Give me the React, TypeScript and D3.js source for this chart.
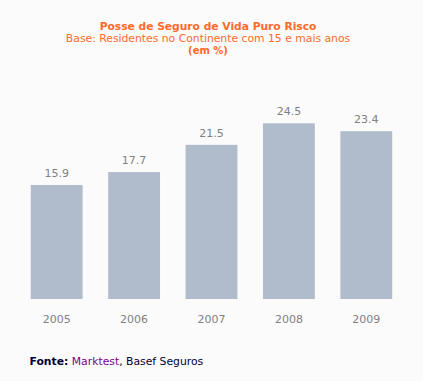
import React from "react";
import * as d3 from "d3";

const years = ["2005", "2006", "2007", "2008", "2009"];
const values = [15.9, 17.7, 21.5, 24.5, 23.4];
const title = "Posse de Seguro de Vida Puro Risco";
const subtitle = "Base: Residentes no Continente com 15 e mais anos";
const unit = "(em %)";

const W = 423;
const H = 381;

export default function App() {
  React.useEffect(() => {
    document.body.style.margin = "0";
  }, []);
  const x = d3.scaleBand<string>().domain(years).range([18, 405]).paddingInner(0.33).paddingOuter(0.165);
  const y = d3.scaleLinear().domain([0, 40]).range([299, 12.2]);
  const font = "'DejaVu Sans', Verdana, sans-serif";
  return (
    <svg width={W} height={H} style={{ display: "block", fontFamily: font }}>
      <rect x={0} y={0} width={W} height={H} fill="#fbfbfb" />
      <text x={208} y={29.5} textAnchor="middle" fontSize={10.7} fontWeight="bold" fill="#ff6a2a">{title}</text>
      <text x={208} y={42} textAnchor="middle" fontSize={10.8} fill="#ff6a2a">{subtitle}</text>
      <text x={208} y={53.5} textAnchor="middle" fontSize={10} fontWeight="bold" fill="#ff6a2a">{unit}</text>
      {years.map((yr, i) => (
        <g key={yr}>
          <rect x={x(yr)} y={y(values[i])} width={x.bandwidth()} height={y(0) - y(values[i])} fill="#b0bbcb" />
          <text x={(x(yr) as number) + x.bandwidth() / 2} y={y(values[i]) - 8} textAnchor="middle" fontSize={11} fill="#808080">{values[i].toFixed(1)}</text>
          <text x={(x(yr) as number) + x.bandwidth() / 2} y={y(0) + 24} textAnchor="middle" fontSize={11} fill="#808080">{yr}</text>
        </g>
      ))}
      <text x={29.5} y={365} fontSize={10.8} fill="#000033">
        <tspan fontWeight="bold">Fonte:</tspan>
        <tspan fill="#800080"> Marktest</tspan>
        <tspan>, Basef Seguros</tspan>
      </text>
    </svg>
  );
}
